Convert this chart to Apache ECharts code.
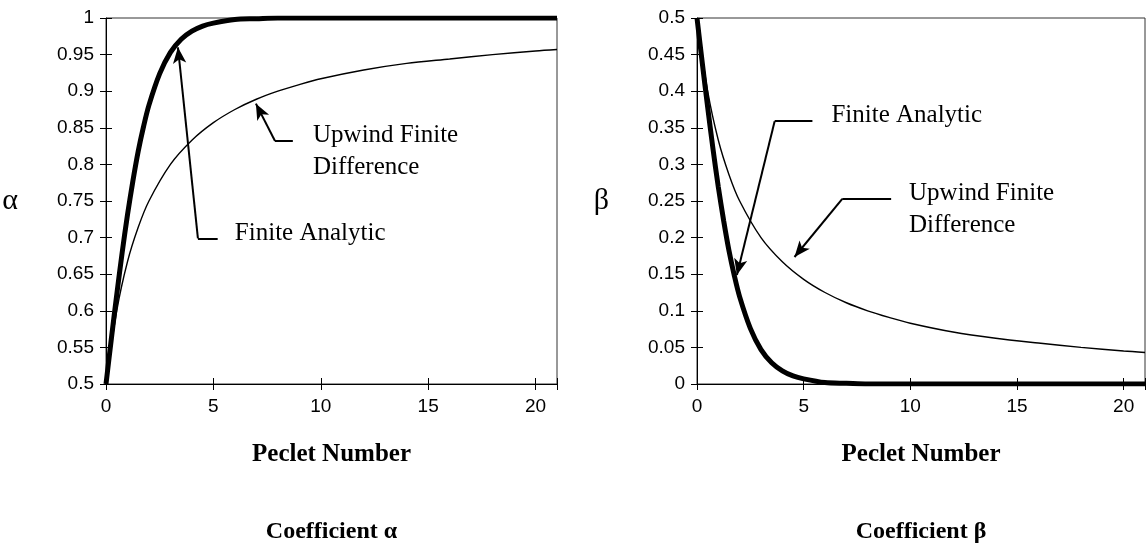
<!DOCTYPE html>
<html>
<head>
<meta charset="utf-8">
<title>Coefficients α and β versus Peclet number</title>
<script src="https://cdn.jsdelivr.net/npm/echarts@6/dist/echarts.min.js"></script>
<style>
  html, body { margin: 0; padding: 0; background: #fff; }
  #chart { width: 1148px; height: 553px; }
</style>
</head>
<body>
<div id="chart"></div>
<script>
// Peclet numbers sampled for the finite analytic curves
const pecletFA = [0, 0.25, 0.5, 0.75, 1, 1.25, 1.5, 1.75, 2, 2.5, 3, 3.5, 4, 4.5, 5, 6, 7, 8, 10, 14, 21];
const alphaFA  = [0.5, 0.562, 0.622, 0.679, 0.731, 0.777, 0.818, 0.852, 0.881, 0.924, 0.953, 0.971, 0.982, 0.989, 0.993, 0.998, 0.999, 1, 1, 1, 1];
const betaFA   = [0.5, 0.438, 0.378, 0.321, 0.269, 0.223, 0.182, 0.148, 0.119, 0.076, 0.047, 0.029, 0.018, 0.011, 0.007, 0.002, 0.001, 0, 0, 0, 0];

// Peclet numbers sampled for the upwind finite difference curves
const pecletUFD = [0, 0.5, 1, 1.5, 2, 3, 4, 5, 6, 7, 8, 9, 10, 12, 14, 16, 18, 20, 21];
const alphaUFD  = [0.5, 0.6, 0.667, 0.714, 0.75, 0.8, 0.833, 0.857, 0.875, 0.889, 0.9, 0.909, 0.917, 0.929, 0.938, 0.944, 0.95, 0.955, 0.957];
const betaUFD   = [0.5, 0.4, 0.333, 0.286, 0.25, 0.2, 0.167, 0.143, 0.125, 0.111, 0.1, 0.091, 0.083, 0.071, 0.0625, 0.056, 0.05, 0.045, 0.043];

// Axis ranges and tick spacing
const xRange = [0, 21], xStep = 5;
const alphaRange = [0.5, 1], betaRange = [0, 0.5], yStep = 0.05;

// Annotation anchors in data units: arrow tip, elbow, end of the short horizontal run, text start
const notesAlpha = [
  { tip: [3.35, 0.960], elbow: [4.28, 0.699], end: [5.2, 0.699], text: [6.0, 0.706], lines: ['Finite Analytic'] },
  { tip: [6.98, 0.883], elbow: [7.87, 0.832], end: [8.7, 0.832], text: [9.64, 0.840], lines: ['Upwind Finite', 'Difference'] }
];
const notesBeta = [
  { tip: [1.87, 0.149], elbow: [3.64, 0.359], end: [5.41, 0.359], text: [6.3, 0.367], lines: ['Finite Analytic'] },
  { tip: [4.57, 0.1735], elbow: [6.81, 0.253], end: [9.1, 0.253], text: [9.94, 0.261], lines: ['Upwind Finite', 'Difference'] }
];

const SANS = 'Liberation Sans, Arial, sans-serif';
const SERIF = 'Liberation Serif, Times New Roman, serif';
const INK = '#000';

function zip(xs, ys) { return xs.map((x, i) => [x, ys[i]]); }

function xAxes(grid) {
  const base = {
    type: 'value', gridIndex: grid, min: xRange[0], max: xRange[1], interval: xStep,
    position: 'bottom', offset: 0, splitLine: { show: false }
  };
  return [
    Object.assign({}, base, {
      axisLine: { show: true, onZero: false, lineStyle: { color: INK, width: 1 } },
      axisTick: { show: true, inside: false, length: 6, lineStyle: { color: INK, width: 1 } },
      axisLabel: {
        color: INK, fontFamily: SANS, fontSize: 19, margin: 13,
        formatter: v => (v % xStep === 0 ? String(v) : '')
      },
      name: 'Peclet Number', nameLocation: 'middle', nameGap: 58,
      nameTextStyle: { fontFamily: SERIF, fontWeight: 'bold', fontSize: 25, color: INK }
    }),
    Object.assign({}, base, {
      axisLine: { show: false },
      axisTick: { show: true, inside: true, length: 6, lineStyle: { color: INK, width: 1 } },
      axisLabel: { show: false }
    })
  ];
}

function yAxes(grid, range, symbol) {
  const base = {
    type: 'value', gridIndex: grid, min: range[0], max: range[1], interval: yStep,
    position: 'left', offset: 0, splitLine: { show: false }
  };
  return [
    Object.assign({}, base, {
      axisLine: { show: true, onZero: false, lineStyle: { color: INK, width: 1 } },
      axisTick: { show: true, inside: false, length: 6, lineStyle: { color: INK, width: 1 } },
      axisLabel: { color: INK, fontFamily: SANS, fontSize: 19, margin: 12 },
      name: symbol, nameLocation: 'middle', nameRotate: 0, nameGap: 88,
      nameTextStyle: { fontFamily: SERIF, fontSize: 30, color: INK }
    }),
    Object.assign({}, base, {
      axisLine: { show: false },
      axisTick: { show: true, inside: true, length: 6, lineStyle: { color: INK, width: 1 } },
      axisLabel: { show: false }
    })
  ];
}

function leaderLines(notes) {
  const data = [];
  notes.forEach(n => {
    data.push([{ coord: n.elbow, symbol: 'none' }, { coord: n.tip, symbol: 'arrow' }]);
    data.push([{ coord: n.elbow, symbol: 'none' }, { coord: n.end, symbol: 'none' }]);
  });
  return {
    silent: true, symbolSize: [10, 16],
    lineStyle: { color: INK, width: 2, type: 'solid' },
    label: { show: false },
    emphasis: { disabled: true },
    data: data
  };
}

function curve(name, grid, xs, ys, width, extra) {
  return Object.assign({
    name: name, type: 'line', xAxisIndex: grid * 2, yAxisIndex: grid * 2,
    data: zip(xs, ys), smooth: 0.3, showSymbol: false, symbol: 'none',
    lineStyle: { color: INK, width: width }, z: width > 2 ? 3 : 2
  }, extra || {});
}

const chart = echarts.init(document.getElementById('chart'), null, { renderer: 'canvas' });

chart.setOption({
  animation: false,
  backgroundColor: '#fff',
  grid: [
    { left: 106, top: 18, width: 451, height: 366, show: true, borderColor: '#333', borderWidth: 1 },
    { left: 697, top: 18, width: 450, height: 366, show: true, borderColor: '#333', borderWidth: 1 }
  ],
  xAxis: [...xAxes(0), ...xAxes(1)],
  yAxis: [...yAxes(0, alphaRange, 'α'), ...yAxes(1, betaRange, 'β')],
  series: [
    curve('Upwind Finite Difference α', 0, pecletUFD, alphaUFD, 1.4, { markLine: leaderLines(notesAlpha) }),
    curve('Finite Analytic α', 0, pecletFA, alphaFA, 5),
    curve('Upwind Finite Difference β', 1, pecletUFD, betaUFD, 1.4, { markLine: leaderLines(notesBeta) }),
    curve('Finite Analytic β', 1, pecletFA, betaFA, 5)
  ]
});

// Annotation text and panel captions, placed from data coordinates
const graphics = [];
[[0, notesAlpha], [1, notesBeta]].forEach(([g, notes]) => {
  notes.forEach(n => {
    const p = chart.convertToPixel({ gridIndex: g }, n.text);
    n.lines.forEach((line, i) => {
      graphics.push({
        type: 'text', silent: true,
        style: {
          text: line, x: p[0], y: p[1] + i * 32,
          font: '25px ' + SERIF, fill: INK,
          textAlign: 'left', textVerticalAlign: 'middle'
        }
      });
    });
  });
});
[[0, 'Coefficient α'], [1, 'Coefficient β']].forEach(([g, caption]) => {
  const p = chart.convertToPixel({ gridIndex: g }, [xRange[1] / 2, g === 0 ? alphaRange[0] : betaRange[0]]);
  graphics.push({
    type: 'text', silent: true,
    style: {
      text: caption, x: p[0], y: p[1] + 148,
      font: 'bold 24px ' + SERIF, fill: INK,
      textAlign: 'center', textVerticalAlign: 'middle'
    }
  });
});
chart.setOption({ graphic: graphics });
</script>
</body>
</html>
